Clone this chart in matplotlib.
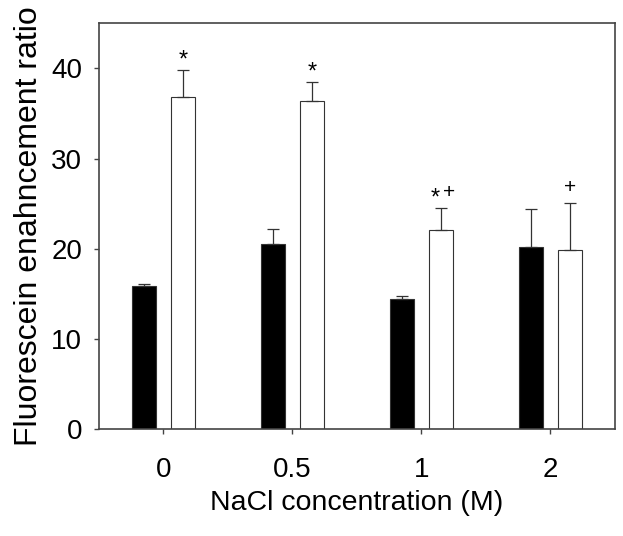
import matplotlib.pyplot as plt
import numpy as np

plt.rcParams['font.family'] = ['Liberation Sans', 'DejaVu Sans']

#Data
conc = ['0', '0.5', '1', '2']
black = [15.9, 20.5, 14.4, 20.2]
black_err = [0.2, 1.7, 0.4, 4.2]
white = [36.8, 36.4, 22.1, 19.8]
white_err = [3.0, 2.1, 2.4, 5.3]
#significance symbols over the white bars (* vs control, + vs 0 M)
marks = [['*'], ['*'], ['*', '+'], ['+']]

x = np.arange(len(conc))
w = 0.186
edge = '#333333'

fig = plt.figure(figsize=(6.23, 5.36), dpi=100)
ax = fig.add_axes([0.1589, 0.1996, 0.828, 0.757])

err_kw = dict(ecolor=edge, elinewidth=0.9, capsize=4.3, capthick=0.9)
ax.bar(x - 0.15, black, w, color='black', edgecolor=edge, linewidth=0.8,
       yerr=[np.zeros(len(black)), black_err], error_kw=err_kw)
ax.bar(x + 0.15, white, w, color='white', edgecolor=edge, linewidth=0.8,
       yerr=[np.zeros(len(white)), white_err], error_kw=err_kw)

#asterisk sits higher in the glyph box than the plus, so shift them separately
yoff = {'*': 2.6, '+': 7.0}
fsz = {'*': 17, '+': 15}
for i in range(len(conc)):
    n = len(marks[i])
    for j, m in enumerate(marks[i]):
        dx = 0 if n == 1 else (-3.8 if j == 0 else 5.8)
        ax.annotate(m, (x[i] + 0.15, white[i] + white_err[i]),
                    xytext=(dx, yoff[m]), textcoords='offset points',
                    ha='center', va='baseline', fontsize=fsz[m])

ax.set_xlim(-0.5, 3.5)
ax.set_ylim(0, 45)
ax.set_xticks(x)
ax.set_xticklabels(conc)
ax.set_yticks([0, 10, 20, 30, 40])

for s in ax.spines.values():
    s.set_color('#444444')
    s.set_linewidth(1.2)
ax.tick_params(axis='both', direction='out', length=3.6, width=1, color='#444444',
               labelsize=20)
ax.tick_params(axis='y', pad=8.6)
ax.tick_params(axis='x', pad=16.5)

ax.set_xlabel('NaCl concentration (M)', fontsize=20.5, labelpad=5)
ax.set_ylabel('Fluorescein enahncement ratio', fontsize=23, labelpad=5)

fig.savefig('out.png', dpi=100)
